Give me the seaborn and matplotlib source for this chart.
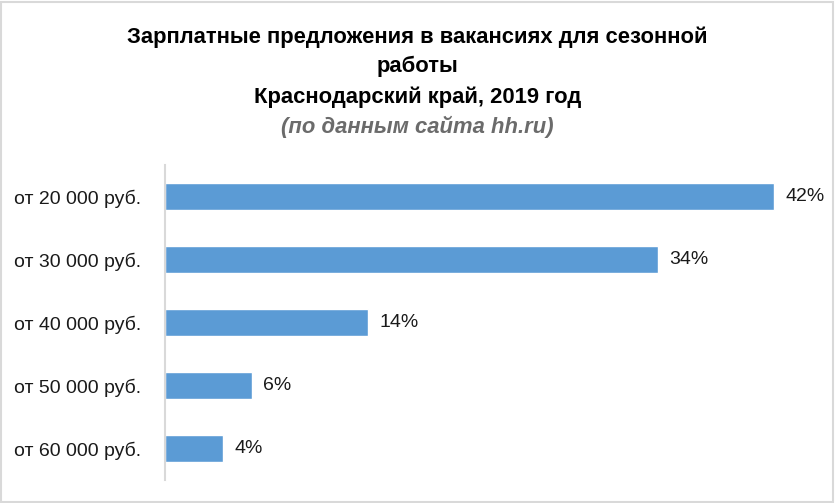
import pandas as pd
import seaborn as sns
import matplotlib.pyplot as plt
from matplotlib.patches import Rectangle

# Data
categories = ['от 20 000 руб.', 'от 30 000 руб.', 'от 40 000 руб.',
              'от 50 000 руб.', 'от 60 000 руб.']
shares = [42, 34, 14, 6, 4]

df = pd.DataFrame({'category': categories, 'share': shares})

sns.set_theme(style="white")
plt.rcParams['font.family'] = ['Liberation Sans', 'DejaVu Sans']

fig = plt.figure(figsize=(8.35, 5.03), dpi=100)
ax = fig.add_axes([0.1976, 0.0457, 0.782, 0.626])

sns.barplot(data=df, x='share', y='category', color='#5B9BD5',
            saturation=1, width=0.43, ax=ax)

# Value labels
for i, v in enumerate(df['share']):
    ax.annotate(f'{v}%', xy=(v, i), xytext=(8, 0), textcoords='offset points',
                va='center', ha='left', fontsize=14, color='#1a1a1a')

ax.set_xlim(0, 45)
ax.set_ylim(4.5, -0.5)
ax.set_xlabel('')
ax.set_ylabel('')
ax.set_xticks([])
ax.tick_params(axis='y', length=0, pad=17, labelsize=14, labelcolor='#1a1a1a')
for side in ['top', 'right', 'bottom']:
    ax.spines[side].set_visible(False)
ax.spines['left'].set_color('#D9D9D9')
ax.spines['left'].set_linewidth(1.5)

# Titles
title_size = 15.8
fig.text(0.5, 0.926, 'Зарплатные предложения в вакансиях для сезонной',
         ha='center', va='center', fontsize=title_size, fontweight='bold', color='black')
fig.text(0.5, 0.868, 'работы', ha='center', va='center', fontsize=title_size,
         fontweight='bold', color='black')
fig.text(0.5, 0.807, 'Краснодарский край, 2019 год', ha='center', va='center',
         fontsize=title_size, fontweight='bold', color='black')
fig.text(0.5, 0.748, '(по данным сайта hh.ru)', ha='center', va='center',
         fontsize=title_size, fontweight='bold', fontstyle='italic', color='#6B6B6B')

# Light frame around the chart
fig.patches.append(Rectangle((0.001, 0.002), 0.997, 0.995, transform=fig.transFigure,
                             fill=False, edgecolor='#D9D9D9', linewidth=1.5))

plt.savefig('out.png', dpi=100)
